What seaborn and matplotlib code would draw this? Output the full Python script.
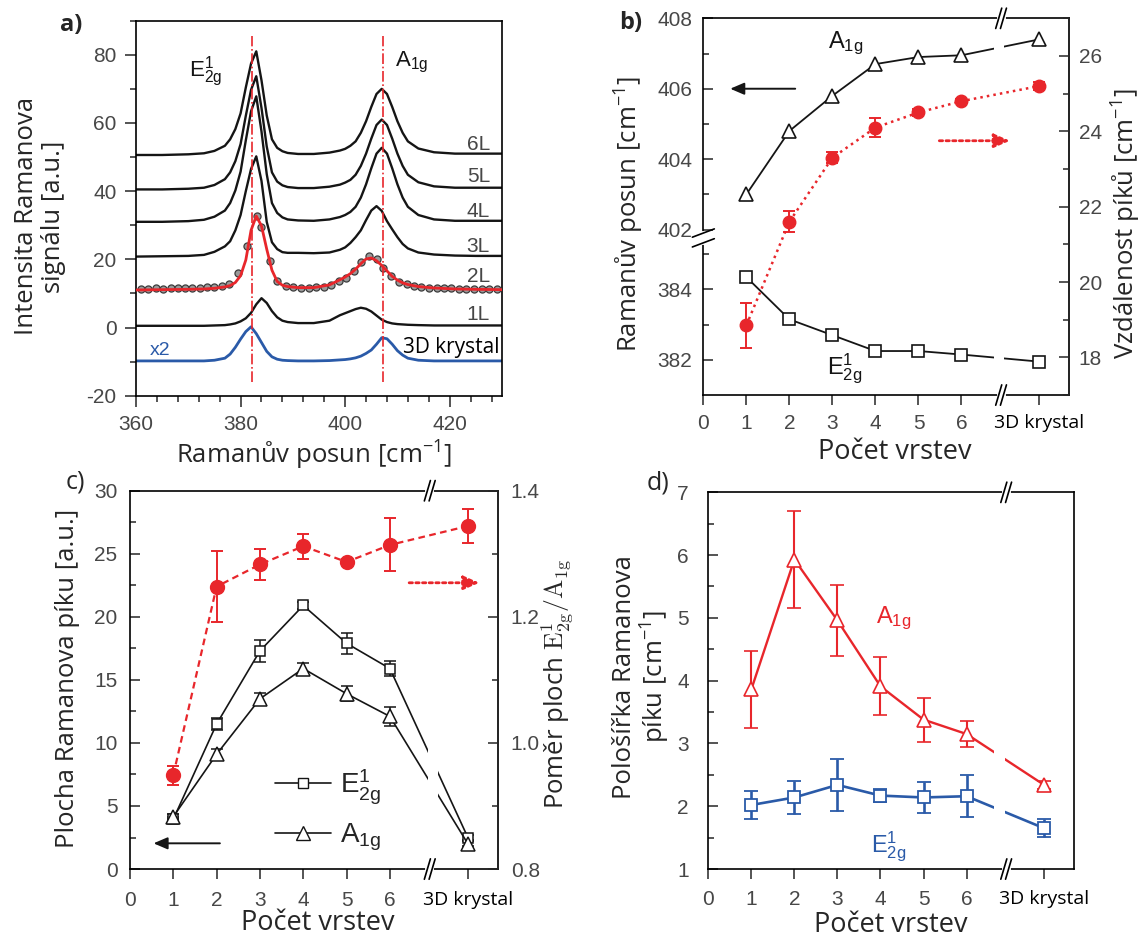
import numpy as np
import matplotlib
matplotlib.use("Agg")
import matplotlib.pyplot as plt
import seaborn as sns
from matplotlib.lines import Line2D
from matplotlib.ticker import MultipleLocator, FixedLocator, NullFormatter
from matplotlib.transforms import blended_transform_factory

# ---------------- a) Raman spectra ----------------
shift = [360, 365, 370, 373, 375, 377, 378, 379, 380, 381, 382, 383, 384, 385, 386,
         387, 388, 389, 391, 394, 397, 399, 400, 401, 402, 403, 404, 405, 406, 407,
         408, 409, 410, 411, 412, 414, 417, 421, 425, 430]
spec_6L = [50.6, 50.6, 50.8, 51.1, 51.8, 53.3, 55.2, 58.2, 62.8, 70.4, 77.4, 81.0, 72.5, 62.2, 55.2,
           52.7, 51.7, 51.2, 50.9, 50.9, 51.3, 51.9, 52.4, 53.3, 54.6, 57.1, 60.5, 64.7, 68.5, 70.0,
           68.5, 64.7, 60.5, 57.1, 54.6, 52.5, 51.4, 51.0, 51.0, 51.0]
spec_5L = [40.5, 40.5, 40.7, 41.0, 41.8, 43.5, 45.5, 48.8, 53.8, 62.1, 69.7, 73.7, 64.4, 53.1, 45.5,
           42.8, 41.7, 41.2, 40.9, 40.9, 41.3, 41.9, 42.5, 43.3, 44.8, 47.4, 51.0, 55.4, 59.4, 61.0,
           59.4, 55.4, 51.0, 47.4, 44.8, 42.6, 41.4, 41.0, 41.0, 41.0]
spec_4L = [31.0, 31.0, 31.2, 31.6, 32.5, 34.3, 36.5, 40.2, 45.7, 54.9, 63.4, 67.8, 57.5, 45.0, 36.5,
           33.6, 32.3, 31.7, 31.4, 31.3, 31.7, 32.4, 33.0, 33.9, 35.4, 38.1, 42.0, 46.7, 51.0, 52.7,
           51.0, 46.7, 42.0, 38.1, 35.4, 33.0, 31.7, 31.3, 31.3, 31.3]
spec_3L = [20.8, 20.9, 21.0, 21.3, 22.2, 23.8, 25.3, 28.5, 33.0, 40.0, 46.5, 50.2, 43.0, 31.0, 25.0,
           23.0, 22.1, 21.9, 21.9, 21.8, 22.0, 22.8, 23.5, 24.8, 26.5, 28.5, 31.5, 34.3, 35.6, 34.2,
           31.2, 28.8, 26.5, 24.5, 23.2, 22.0, 21.4, 21.1, 21.0, 21.0]
fit_2L = [11.0, 11.1, 11.2, 11.3, 11.5, 11.9, 12.3, 13.2, 15.2, 19.8, 28.5, 32.7, 29.8, 23.0, 16.8,
          13.5, 12.4, 12.0, 11.7, 11.7, 12.5, 14.0, 14.8, 15.8, 17.1, 18.7, 20.1, 20.4, 19.6, 18.2,
          16.6, 15.0, 13.9, 13.1, 12.6, 12.0, 11.6, 11.3, 11.2, 11.1]
spec_1L = [0.5, 0.5, 0.5, 0.5, 0.6, 0.7, 0.9, 1.2, 1.8, 2.7, 4.3, 6.8, 8.6, 7.2, 4.8,
           3.0, 2.0, 1.6, 1.3, 1.3, 2.0, 3.6, 4.2, 4.8, 5.4, 5.8, 5.5, 4.7, 3.5, 2.3,
           1.6, 1.2, 1.0, 0.9, 0.8, 0.7, 0.6, 0.6, 0.6, 0.6]
spec_bulk = [-9.8, -9.8, -9.8, -9.8, -9.6, -9.0, -7.8, -5.8, -3.4, -1.2, 0.2, -1.8, -4.4, -7.0, -8.6,
             -9.3, -9.6, -9.7, -9.8, -9.8, -9.7, -9.5, -9.4, -9.2, -8.9, -8.4, -7.6, -6.6, -4.9, -3.0,
             -3.3, -4.9, -6.8, -8.1, -9.0, -9.6, -9.8, -9.8, -9.8, -9.8]
meas_2L_x = [360.9, 362.3, 363.8, 365.2, 366.6, 368.0, 369.4, 370.8, 372.2, 373.6, 375.0, 376.4,
             377.8, 379.6, 381.3, 383.2, 384.0, 385.6, 387.0, 388.6, 390.1, 391.6, 393.0, 394.5,
             395.9, 397.3, 398.8, 400.2, 401.7, 403.1, 404.5, 406.0, 407.3, 408.8, 410.3, 411.8,
             413.2, 414.6, 416.0, 417.5, 418.9, 420.3, 421.8, 423.2, 424.7, 426.1, 427.5, 429.0]
meas_2L_y = [11.4, 11.4, 11.5, 11.4, 11.5, 11.6, 11.7, 11.6, 11.7, 11.8, 12.0, 12.1,
             12.9, 16.0, 23.9, 32.6, 29.5, 19.4, 13.6, 12.3, 11.8, 11.7, 11.7, 11.8,
             11.9, 12.4, 13.6, 14.6, 16.6, 19.1, 20.9, 20.0, 17.6, 15.1, 13.4, 12.7,
             12.1, 11.9, 11.7, 11.6, 11.5, 11.5, 11.4, 11.4, 11.4, 11.3, 11.3, 11.3]
peak_lines = [382.2, 407.3]
layer_tags = ['6L', '5L', '4L', '3L', '2L', '1L']
tag_levels = [53.6, 44.4, 34.1, 23.9, 15.1, 3.9]

# ---------------- b), c), d) vs number of layers ----------------
layers = [1, 2, 3, 4, 5, 6]
bulk_label = '3D krystal'
pos_a1g = [403.0, 404.8, 405.8, 406.7, 406.9, 406.95, 407.4]
pos_e2g = [384.35, 383.15, 382.7, 382.25, 382.25, 382.15, 381.95]
peak_gap = [18.85, 21.6, 23.3, 24.1, 24.5, 24.8, 25.2]
peak_gap_err = [0.6, 0.28, 0.15, 0.25, 0.1, 0.05, 0.1]

area_e2g = [3.95, 11.5, 17.3, 20.9, 17.9, 15.9, 2.5]
area_e2g_err = [0.2, 0.5, 0.85, 0.3, 0.85, 0.6, 0.2]
area_a1g = [4.15, 9.1, 13.5, 15.9, 13.9, 12.1, 2.0]
area_a1g_err = [0.2, 0.45, 0.45, 0.4, 0.6, 0.75, 0.2]
area_ratio = [0.949, 1.248, 1.283, 1.312, 1.287, 1.314, 1.344]
area_ratio_err = [0.015, 0.056, 0.025, 0.02, 0.004, 0.042, 0.027]

fwhm_a1g = [3.86, 5.93, 4.96, 3.91, 3.38, 3.15, 2.34]
fwhm_a1g_err = [0.62, 0.78, 0.57, 0.46, 0.35, 0.2, 0.07]
fwhm_e2g = [2.02, 2.14, 2.34, 2.17, 2.14, 2.16, 1.65]
fwhm_e2g_err = [0.22, 0.27, 0.42, 0.1, 0.25, 0.33, 0.14]

# ---------------- style ----------------
sns.set_theme(style='ticks')
plt.rcParams['font.family'] = ['Open Sans', 'DejaVu Sans']
plt.rcParams['axes.unicode_minus'] = False
plt.rcParams['mathtext.fontset'] = 'custom'
plt.rcParams['mathtext.rm'] = 'Open Sans'
plt.rcParams['mathtext.it'] = 'Open Sans:italic'
plt.rcParams['mathtext.bf'] = 'Open Sans:bold'

RED = '#e8262b'
BLUE = '#2a5aa8'
DARK = '#151515'
TICKGRAY = '#474747'
BULK_X = 7.8
XB = 6.92
LAB = 18.5
x_all = layers + [BULK_X]

fig = plt.figure(figsize=(11.44, 9.39), dpi=100)
ax_a = fig.add_axes([0.1189, 0.5786, 0.3199, 0.3994])
ax_b = fig.add_axes([0.6148, 0.5793, 0.3197, 0.4012])
ax_c = fig.add_axes([0.1136, 0.0745, 0.3219, 0.4029])
ax_d = fig.add_axes([0.6191, 0.0745, 0.3199, 0.4012])

for ax in (ax_a, ax_b, ax_c, ax_d):
    for s in ax.spines.values():
        s.set_linewidth(1.2)
        s.set_color('black')


def x_break(ax, xb):
    tr = blended_transform_factory(ax.transData, ax.transAxes)
    for yb in (0.0, 1.0):
        ax.plot([xb - 0.06, xb + 0.06], [yb, yb], color='white', lw=3,
                transform=tr, clip_on=False, zorder=6)
        for dx in (-0.055, 0.055):
            ax.plot([xb + dx - 0.07, xb + dx + 0.07], [yb - 0.027, yb + 0.027],
                    color='black', lw=1.2, transform=tr, clip_on=False, zorder=7)


def layer_xaxis(ax):
    ax.set_xlim(0, 8.5)
    ax.set_xticks([0] + x_all, labels=['0'] + [str(v) for v in layers] + [bulk_label])
    ax.tick_params(axis='x', direction='out', length=7, width=1.1, pad=7,
                   labelsize=15, labelcolor=TICKGRAY, labelfontfamily='Liberation Sans')
    last = ax.get_xticklabels()[-1]
    last.set_fontfamily('Open Sans')
    last.set_color('black')
    last.set_fontsize(14)
    ax.tick_params(axis='y', which='both', direction='in', width=1.1,
                   labelsize=15, labelcolor=TICKGRAY, labelfontfamily='Liberation Sans')
    ax.tick_params(axis='y', which='major', length=7)
    ax.tick_params(axis='y', which='minor', length=4)
    ax.set_xlabel('Počet vrstev', fontsize=19.5, va='center')


# ---------------- a) ----------------
for ys in (spec_6L, spec_5L, spec_4L, spec_3L, spec_1L):
    sns.lineplot(x=shift, y=ys, ax=ax_a, color=DARK, lw=1.7, sort=False, estimator=None, legend=False)
sns.scatterplot(x=meas_2L_x, y=meas_2L_y, ax=ax_a, s=26, color='#9a9a9a', edgecolor='#3c3c3c',
                linewidth=0.9, zorder=3, legend=False)
sns.lineplot(x=shift, y=fit_2L, ax=ax_a, color=RED, lw=2.0, sort=False, estimator=None,
             legend=False, zorder=4)
sns.lineplot(x=shift, y=spec_bulk, ax=ax_a, color=BLUE, lw=2.0, sort=False, estimator=None, legend=False)
ax_a.vlines(peak_lines, -16, 85.5, colors=RED, linestyles='-.', lw=1.2, zorder=5)

for tag, lev in zip(layer_tags, tag_levels):
    ax_a.text(427.7, lev, tag, ha='right', va='center', fontsize=15, color=TICKGRAY,
              family='Liberation Sans')
ax_a.text(411.0, -5.9, '3D krystal', ha='left', va='center', fontsize=15, color='black')
ax_a.text(362.6, -6.8, 'x2', ha='left', va='center', fontsize=14, color=BLUE, family='Liberation Sans')
ax_a.text(370.2, 73.5, r'$\mathregular{E^1_{2g}}$', ha='left', va='baseline', fontsize=16,
          family='Liberation Sans', color=DARK)
ax_a.text(409.6, 76.6, r'$\mathregular{A_{1g}}$', ha='left', va='baseline', fontsize=16,
          family='Liberation Sans', color=DARK)

ax_a.set_xlim(360, 430)
ax_a.set_ylim(-20, 90)
ax_a.xaxis.set_major_locator(MultipleLocator(20))
ax_a.xaxis.set_minor_locator(MultipleLocator(4))
ax_a.yaxis.set_major_locator(MultipleLocator(20))
ax_a.yaxis.set_minor_locator(MultipleLocator(10))
ax_a.tick_params(which='both', direction='out', width=1.1, labelsize=15, labelcolor=TICKGRAY,
                 labelfontfamily='Liberation Sans', pad=6)
ax_a.tick_params(which='major', length=8)
ax_a.tick_params(which='minor', length=4.5)
ax_a.set_xlabel(r'Ramanův posun [cm$\mathregular{^{-1}}$]', fontsize=18.5, va='center')
ax_a.xaxis.set_label_coords(0.486, -0.158)
ax_a.set_ylabel('Intensita Ramanova\nsignálu [a.u.]', fontsize=LAB, va='center', linespacing=1.1)
ax_a.yaxis.set_label_coords(-0.262, 0.478)

# ---------------- b) ----------------
GAP_LO, GAP_HI = 385.4, 401.7


def fwd(y):
    y = np.asarray(y, dtype=float)
    return np.where(y <= GAP_LO, y, np.where(y >= GAP_HI, y - (GAP_HI - GAP_LO), GAP_LO))


def inv(f):
    f = np.asarray(f, dtype=float)
    return np.where(f <= GAP_LO, f, f + (GAP_HI - GAP_LO))


ax_b.set_yscale('function', functions=(fwd, inv))
ax_b.plot(x_all, pos_a1g, color=DARK, lw=1.3, marker='^', ms=10.5, mfc='white', mec=DARK, mew=1.2, zorder=2)
ax_b.plot(x_all, pos_e2g, color=DARK, lw=1.3, marker='s', ms=8, mfc='white', mec=DARK, mew=1.2, zorder=2)
ax_b.axvspan(6.76, 6.98, color='white', lw=0, zorder=2.2)
ax_b.set_ylim(381, 408)
ax_b.yaxis.set_major_locator(FixedLocator([382, 384, 402, 404, 406, 408]))
ax_b.yaxis.set_minor_locator(FixedLocator([383, 385, 403, 405, 407]))
ax_b.yaxis.set_minor_formatter(NullFormatter())
layer_xaxis(ax_b)
ax_b.tick_params(axis='y', pad=8)
ax_b.annotate('', xy=(0.56, 406), xytext=(2.2, 406),
              arrowprops=dict(arrowstyle='-|>,head_length=0.7,head_width=0.3', color=DARK, lw=1.4))
ax_b.text(0.39, 0.934, r'$\mathregular{A_{1g}}$', transform=ax_b.transAxes, ha='center', va='center',
          fontsize=17, family='Liberation Sans', color=DARK)
ax_b.text(0.387, 0.07, r'$\mathregular{E^1_{2g}}$', transform=ax_b.transAxes, ha='center', va='center',
          fontsize=17, family='Liberation Sans', color=DARK)
ax_b.set_ylabel(r'Ramanův posun [cm$\mathregular{^{-1}}$]', fontsize=LAB, va='center')
ax_b.yaxis.set_label_coords(-0.203, 0.48)
ax_b.xaxis.set_label_coords(0.524, -0.152)
x_break(ax_b, XB)
tr = ax_b.transAxes
ax_b.plot([0, 0], [0.404, 0.43], color='white', lw=3, transform=tr, clip_on=False, zorder=6)
for yy in (0.404, 0.43):
    ax_b.plot([-0.03, 0.03], [yy - 0.011, yy + 0.011], color='black', lw=1.2, transform=tr,
              clip_on=False, zorder=7)

ax_b2 = ax_b.twinx()
for side in ('top', 'bottom', 'left'):
    ax_b2.spines[side].set_visible(False)
ax_b2.spines['right'].set_linewidth(1.2)
ax_b2.errorbar(x_all, peak_gap, yerr=peak_gap_err, fmt='o:', color=RED, ms=9, lw=1.8,
               capsize=4, elinewidth=1.4, capthick=1.4)
ax_b2.set_ylim(17, 27)
ax_b2.yaxis.set_major_locator(MultipleLocator(2))
ax_b2.yaxis.set_minor_locator(MultipleLocator(1))
ax_b2.tick_params(axis='y', which='both', direction='in', width=1.1, labelsize=15,
                  labelcolor=TICKGRAY, labelfontfamily='Liberation Sans', pad=7)
ax_b2.tick_params(axis='y', which='major', length=7)
ax_b2.tick_params(axis='y', which='minor', length=4)
ax_b2.annotate('', xy=(7.19, 23.75), xytext=(5.42, 23.75),
               arrowprops=dict(arrowstyle='-|>,head_length=0.8,head_width=0.35', color=RED, lw=2,
                               linestyle=(0, (1.2, 1.2))))
ax_b2.set_ylabel(r'Vzdálenost píků [cm$\mathregular{^{-1}}$]', fontsize=LAB, va='center')
ax_b2.yaxis.set_label_coords(1.156, 0.454)

# ---------------- c) ----------------
ax_c.errorbar(x_all, area_e2g, yerr=area_e2g_err, fmt='s-', color=DARK, ms=7.5, mfc='white', mec=DARK,
              mew=1.1, lw=1.2, capsize=4, elinewidth=1.1, zorder=2)
ax_c.errorbar(x_all, area_a1g, yerr=area_a1g_err, fmt='^-', color=DARK, ms=9.5, mfc='white', mec=DARK,
              mew=1.1, lw=1.2, capsize=4, elinewidth=1.1, zorder=2)
ax_c.axvspan(6.88, 7.1, color='white', lw=0, zorder=2.2)
ax_c.set_ylim(0, 30)
ax_c.yaxis.set_major_locator(MultipleLocator(5))
ax_c.yaxis.set_minor_locator(MultipleLocator(2.5))
layer_xaxis(ax_c)
ax_c.tick_params(axis='y', pad=9)
ax_c.tick_params(axis='x', pad=9)
ax_c.annotate('', xy=(0.48, 2.04), xytext=(2.14, 2.04),
              arrowprops=dict(arrowstyle='-|>,head_length=0.7,head_width=0.3', color=DARK, lw=1.4))
h_e = Line2D([], [], color=DARK, lw=1.2, marker='s', ms=7.5, mfc='white', mec=DARK)
h_a = Line2D([], [], color=DARK, lw=1.2, marker='^', ms=9.5, mfc='white', mec=DARK)
ax_c.legend([h_e, h_a], [r'$\mathregular{E^1_{2g}}$', r'$\mathregular{A_{1g}}$'], loc='center left',
            bbox_to_anchor=(0.394, 0.155), frameon=False, handlelength=2.0, labelspacing=0.55,
            handletextpad=0.35, borderpad=0, borderaxespad=0,
            prop={'family': 'Liberation Sans', 'size': 20})
ax_c.set_ylabel('Plocha Ramanova píku [a.u.]', fontsize=LAB, va='center')
ax_c.yaxis.set_label_coords(-0.17, 0.505)
ax_c.xaxis.set_label_coords(0.51, -0.143)
x_break(ax_c, XB)

ax_c2 = ax_c.twinx()
for side in ('top', 'bottom', 'left'):
    ax_c2.spines[side].set_visible(False)
ax_c2.spines['right'].set_linewidth(1.2)
ax_c2.errorbar(x_all, area_ratio, yerr=area_ratio_err, fmt='o', ls=(0, (3, 2)), color=RED, ms=10,
               lw=1.6, capsize=4.5, elinewidth=1.4, capthick=1.4)
ax_c2.set_ylim(0.8, 1.4)
ax_c2.yaxis.set_major_locator(MultipleLocator(0.2))
ax_c2.yaxis.set_minor_locator(MultipleLocator(0.1))
ax_c2.tick_params(axis='y', which='both', direction='in', width=1.1, labelsize=15,
                  labelcolor=TICKGRAY, labelfontfamily='Liberation Sans', pad=9)
ax_c2.tick_params(axis='y', which='major', length=7)
ax_c2.tick_params(axis='y', which='minor', length=4)
ax_c2.annotate('', xy=(8.13, 1.254), xytext=(6.38, 1.254),
               arrowprops=dict(arrowstyle='-|>,head_length=0.8,head_width=0.35', color=RED, lw=2,
                               linestyle=(0, (1.2, 1.2))))
ax_c2.set_ylabel(r'Poměr ploch $\mathrm{E^1_{2g}/A_{1g}}$', fontsize=LAB, va='center',
                 math_fontfamily='cm')
ax_c2.yaxis.set_label_coords(1.16, 0.49)

# ---------------- d) ----------------
ax_d.errorbar(x_all, fwhm_a1g, yerr=fwhm_a1g_err, fmt='^-', color=RED, ms=10, mfc='white', mec=RED,
              mew=1.2, lw=1.7, capsize=5, elinewidth=1.5, capthick=1.5, zorder=2)
ax_d.errorbar(x_all, fwhm_e2g, yerr=fwhm_e2g_err, fmt='s-', color=BLUE, ms=8, mfc='white', mec=BLUE,
              mew=1.3, lw=1.9, capsize=5, elinewidth=1.9, capthick=1.9, zorder=2)
ax_d.axvspan(6.63, 6.89, color='white', lw=0, zorder=2.2)
ax_d.set_ylim(1, 7)
ax_d.yaxis.set_major_locator(MultipleLocator(1))
ax_d.yaxis.set_minor_locator(MultipleLocator(0.5))
layer_xaxis(ax_d)
ax_d.tick_params(axis='y', pad=14)
ax_d.tick_params(axis='x', pad=8)
ax_d.text(4.3, 5.0, r'$\mathregular{A_{1g}}$', ha='center', va='center', fontsize=17,
          family='Liberation Sans', color=RED)
ax_d.text(4.2, 1.36, r'$\mathregular{E^1_{2g}}$', ha='center', va='center', fontsize=17,
          family='Liberation Sans', color=BLUE)
ax_d.set_ylabel('Pološířka Ramanova\npíku [cm$\\mathregular{^{-1}}$]', fontsize=LAB, va='center',
                linespacing=1.1)
ax_d.yaxis.set_label_coords(-0.181, 0.51)
ax_d.xaxis.set_label_coords(0.5, -0.149)
x_break(ax_d, XB)

# panel letters
fig.text(0.062, 0.973, 'a)', fontsize=17, fontweight='bold', ha='center', va='center')
fig.text(0.5516, 0.9755, 'b)', fontsize=17, fontweight='bold', ha='center', va='center')
fig.text(0.0656, 0.4867, 'c)', fontsize=18, ha='center', va='center')
fig.text(0.575, 0.4856, 'd)', fontsize=18, ha='center', va='center')

fig.savefig('out.png', dpi=100)
